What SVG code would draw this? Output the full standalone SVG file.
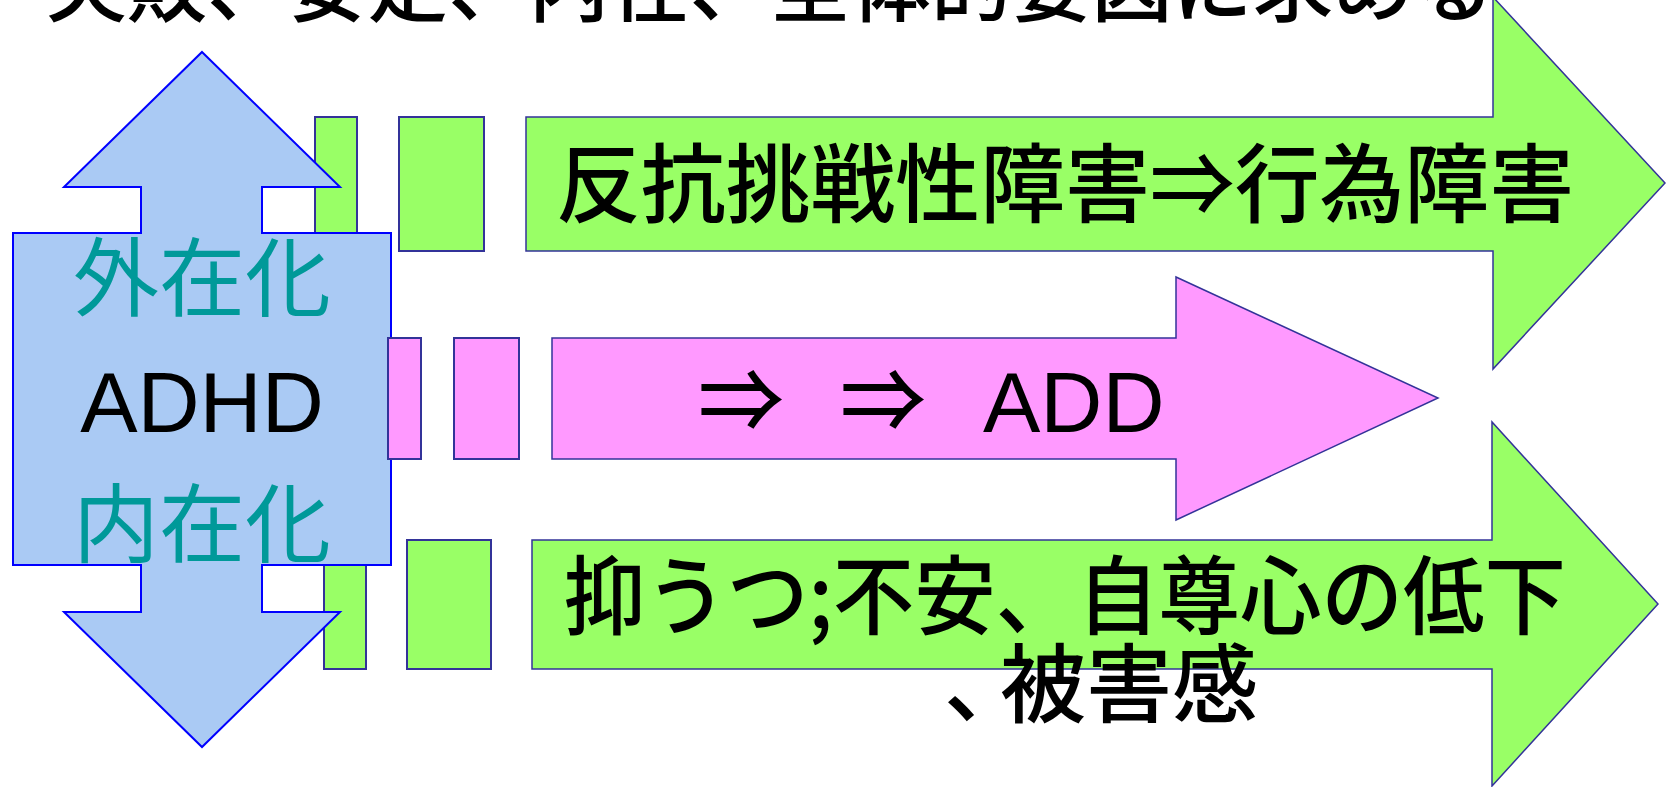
<svg xmlns="http://www.w3.org/2000/svg" width="1666" height="787" viewBox="0 0 1666 787">
<style>
text{font-family:"Liberation Sans","Noto Sans CJK JP",sans-serif;fill:#000}
.jp{font-family:"Noto Sans CJK JP","Liberation Sans",sans-serif;font-weight:500}
.g{fill:#99FF66;stroke:#333399;stroke-width:2}
.p{fill:#FF99FF;stroke:#333399;stroke-width:2}
.ga{fill:#99FF66;stroke:#333399;stroke-width:1.5}
.pa{fill:#FF99FF;stroke:#333399;stroke-width:1.5}
.teal{fill:#009999;font-weight:400}
</style>
<rect width="1666" height="787" fill="#fff"/>
<g id="title">
<text class="jp" x="46" y="15" font-size="80" textLength="1448" lengthAdjust="spacingAndGlyphs">失敗、安定、内在、全体的要因に求める</text>
</g>
<g id="row-top">
<rect class="g" x="315" y="117" width="42" height="134"/>
<rect class="g" x="399" y="117" width="85" height="134"/>
<polygon class="ga" points="526,117 1493,117 1493,-3 1665,183 1493,369 1493,251 526,251"/>
<text class="jp" x="556" y="216" font-size="86" textLength="1018" lengthAdjust="spacingAndGlyphs">反抗挑戦性障害⇒行為障害</text>
</g>
<g id="row-bottom">
<rect class="g" x="324" y="540" width="42" height="129"/>
<rect class="g" x="407" y="540" width="84" height="129"/>
<polygon class="ga" points="532,540 1492,540 1492,422 1658,604 1492,786 1492,669 532,669"/>
<text class="jp" x="564" y="628" font-size="86" textLength="1002" lengthAdjust="spacingAndGlyphs">抑うつ;不安、自尊心の低下</text>
<text class="jp" x="944" y="716" font-size="86"><tspan x="944">、</tspan><tspan x="1000" textLength="258" lengthAdjust="spacingAndGlyphs">被害感</tspan></text>
</g>
<g id="adhd">
<polygon fill="#AACAF4" stroke="#0000FF" stroke-width="2" points="202,52 340,187 262,187 262,233 391,233 391,565 262,565 262,612 340,612 202,747 64,612 141,612 141,565 13,565 13,233 141,233 141,187 64,187"/>
<text class="jp teal" x="202" y="310" font-size="86" text-anchor="middle">外在化</text>
<text x="202" y="432" font-size="86" text-anchor="middle">ADHD</text>
<text class="jp teal" x="202" y="556" font-size="86" text-anchor="middle">内在化</text>
</g>
<g id="row-middle">
<rect class="p" x="388" y="338" width="33" height="121"/>
<rect class="p" x="454" y="338" width="65" height="121"/>
<polygon class="pa" points="552,338 1176,338 1176,277 1438,398 1176,520 1176,459 552,459"/>
<text x="698" y="432" font-size="86"><tspan class="jp" x="698">⇒</tspan><tspan class="jp" x="840">⇒</tspan><tspan x="983">ADD</tspan></text>
</g>
</svg>
